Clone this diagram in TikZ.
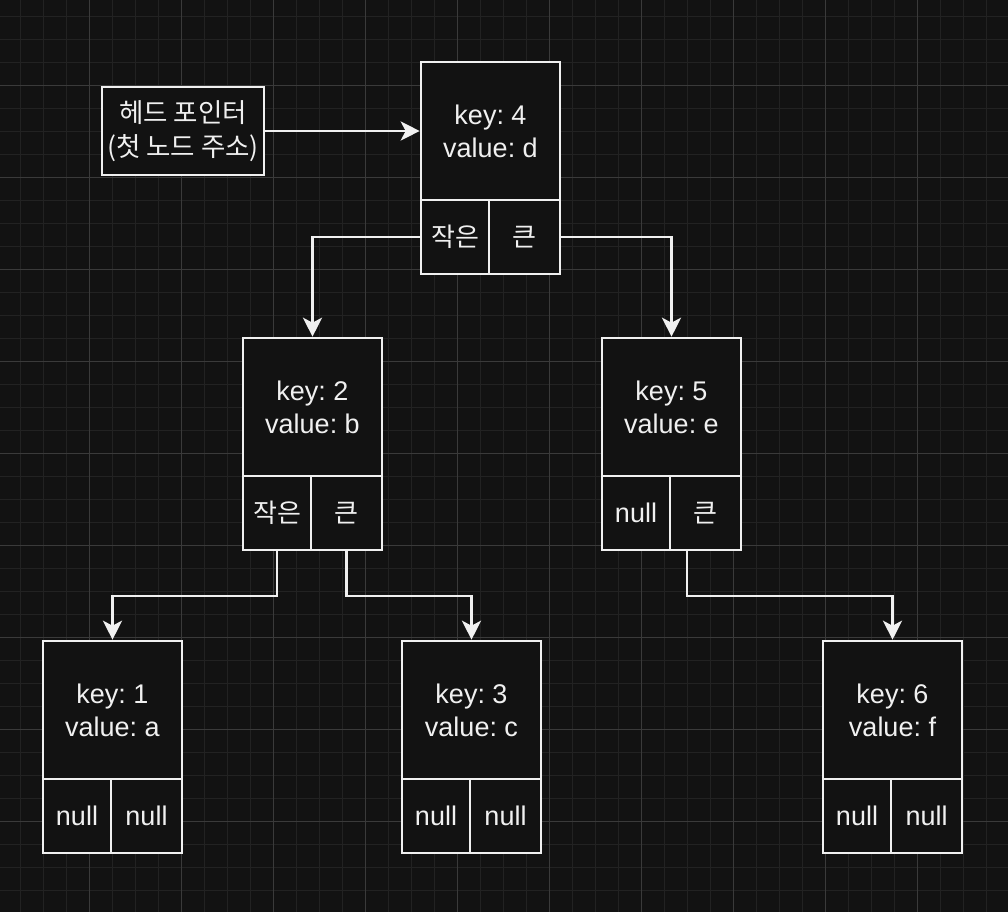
\documentclass[tikz,border=0pt]{standalone}
\usepackage{fontspec}
\setmainfont{Liberation Sans}
\newfontfamily\kr{Noto Sans CJK KR}
\usetikzlibrary{arrows.meta}
\definecolor{bg}{HTML}{121212}
\definecolor{fg}{HTML}{F0F0F0}
\definecolor{gridminor}{HTML}{222222}
\definecolor{gridmajor}{HTML}{3A3A3A}
\newcommand\krt[1]{{\kr\fontsize{26}{30}\selectfont #1}}
\frenchspacing
\tikzset{
  box/.style={draw=fg, fill=bg, line width=2.6pt, inner sep=0pt, text=fg,
    font=\fontsize{27}{33}\selectfont\frenchspacing, align=center},
  topbox/.style={box, minimum width=139pt, minimum height=138pt},
  lcell/.style={box, minimum width=68pt, minimum height=74pt},
  rcell/.style={box, minimum width=71pt, minimum height=74pt},
  arr/.style={draw=fg, line width=2.6pt, -{Stealth[length=19pt,width=19pt,inset=5pt]}},
  gminor/.style={draw=gridminor, line width=1pt},
  gmajor/.style={draw=gridmajor, line width=1pt},
}
\newcommand\treenode[6]{%
  \node[topbox] (#1) at ({#2+69.5},{#3+69}) {#4};
  \node[lcell] (#1l) at ({#2+34},{#3+175}) {#5};
  \node[rcell] (#1r) at ({#2+103.5},{#3+175}) {#6};
}
\begin{document}
\begin{tikzpicture}[x=1pt,y=-1pt]
\useasboundingbox (0,0) rectangle (1008,912);
\fill[bg] (0,0) rectangle (1008,912);
% grid
\foreach \i in {-3,...,39} \draw[gminor] ({89.5+23*\i},0) -- ({89.5+23*\i},912);
\foreach \i in {-3,...,36} \draw[gminor] (0,{85.5+23*\i}) -- (1008,{85.5+23*\i});
\foreach \i in {0,...,10} \draw[gmajor] ({89.5+92*\i},0) -- ({89.5+92*\i},912);
\foreach \i in {0,...,9} \draw[gmajor] (0,{85.5+92*\i}) -- (1008,{85.5+92*\i});
% head pointer
\node[box, minimum width=162pt, minimum height=88pt, font=\kr\fontsize{26.5}{34}\selectfont] (head) at (183,131) {헤드 포인터\\(첫 노드 주소)};
% tree nodes
\treenode{n4}{421}{62}{key: 4\\value: d}{\krt{작은}}{\krt{큰}}
\treenode{n2}{243}{338}{key: 2\\value: b}{\krt{작은}}{\krt{큰}}
\treenode{n5}{602}{338}{key: 5\\value: e}{null}{\krt{큰}}
\treenode{n1}{43}{641}{key: 1\\value: a}{null}{null}
\treenode{n3}{402}{641}{key: 3\\value: c}{null}{null}
\treenode{n6}{823}{641}{key: 6\\value: f}{null}{null}
% connectors
\coordinate (j2) at (0,596);
\coordinate (s5) at (687,550);
\draw[arr] (head.east) -- (n4.west);
\draw[arr] (n4l.west) -| (n2.north);
\draw[arr] (n4r.east) -| (n5.north);
\draw[arr] (n2l.south) -- (n2l.south |- j2) -| (n1.north);
\draw[arr] (n2r.south) -- (n2r.south |- j2) -| (n3.north);
\draw[arr] (s5) -- (s5 |- j2) -| (n6.north);
\end{tikzpicture}
\end{document}
